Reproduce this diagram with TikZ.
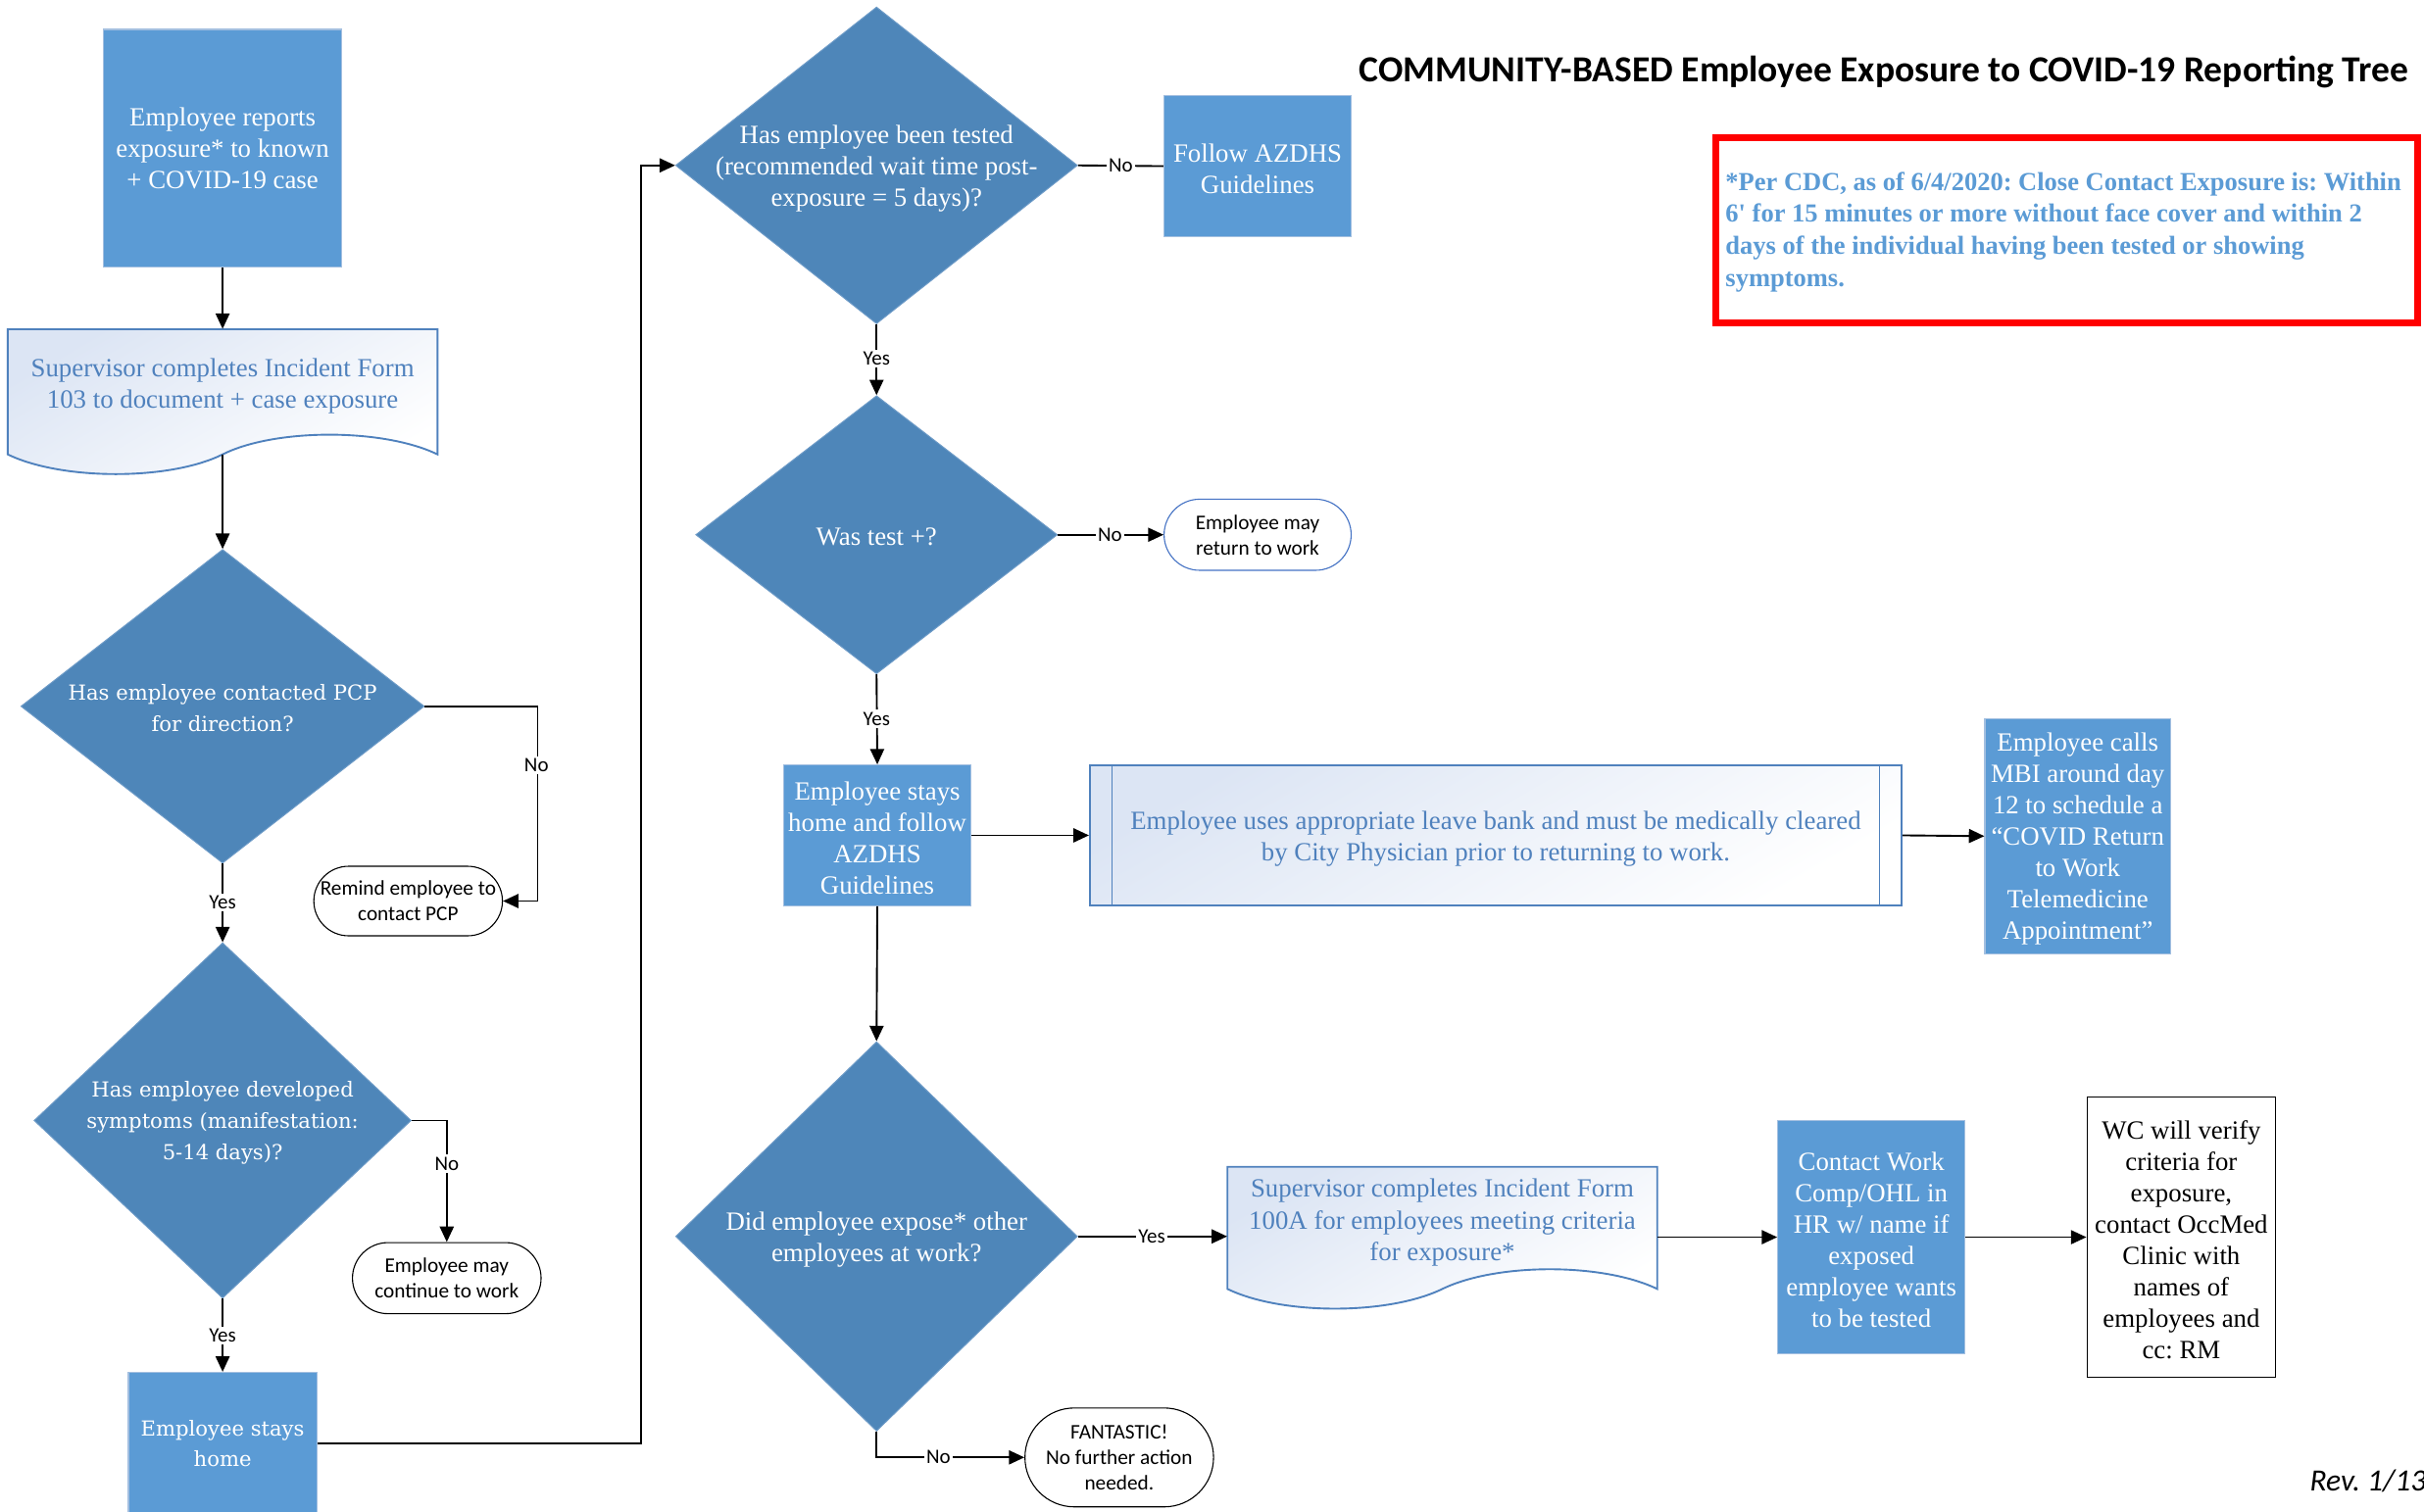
\documentclass[tikz,border=0pt]{standalone}
\usepackage{fontspec}
\setmainfont{Liberation Serif}
\newfontfamily\calfont{Carlito}
\newfontfamily\dvsfont{DejaVu Serif}
\newfontfamily\notefont{Liberation Serif}[Ligatures=TeXOff]
\usetikzlibrary{shapes.geometric,shapes.misc,arrows.meta}
\definecolor{boxblue}{HTML}{5B9BD5}
\definecolor{boxedge}{HTML}{A3BFE0}
\definecolor{diamblue}{HTML}{4E86B9}
\definecolor{diamedge}{HTML}{6F9CC8}
\definecolor{docblue}{HTML}{4F81BD}
\definecolor{gradblue}{HTML}{DCE5F4}
\definecolor{notered}{HTML}{FF0000}
\definecolor{notetext}{HTML}{5B9BD5}
\definecolor{pillblue}{HTML}{4472C4}
\newcommand\tmsfont{\fontsize{17}{20.3}\selectfont}
\newcommand\dvsq{\dvsfont\fontsize{13.4}{20}\selectfont}
\newcommand\lblfont{\calfont\fontsize{13.3}{15}\selectfont}
\newcommand\pillfont{\calfont\fontsize{13.5}{16.5}\selectfont}
\frenchspacing
\tikzset{
  procbox/.style={rectangle, fill=boxblue, draw=boxedge, line width=0.8pt, text=white, font=\tmsfont, align=center, inner sep=0pt},
  decbox/.style={diamond, fill=diamblue, draw=diamedge, line width=0.6pt, inner sep=0pt, aspect=1},
  dectext/.style={text=white, font=\tmsfont, align=center, inner sep=0pt},
  doctext/.style={text=docblue, font=\tmsfont, align=center, inner sep=0pt},
  docfill/.style={draw=docblue, line width=1.2pt, top color=gradblue, bottom color=white, shading angle=30},
  pill/.style={rounded rectangle, draw=black, line width=0.7pt, fill=white, font=\pillfont, align=center, inner sep=0pt},
  plainbox/.style={rectangle, draw=black, line width=0.8pt, fill=white, font=\tmsfont, align=center, inner sep=0pt},
  conn/.style={draw=black, line width=1.2pt},
  arr/.style={conn, -{Triangle[length=10pt,width=9pt]}},
  lbl/.style={fill=white, font=\lblfont, inner sep=1.5pt},
}
\begin{document}
\begin{tikzpicture}[x=1pt,y=-1pt]
\useasboundingbox (0,0) rectangle (1568,978);

% ---------- left column ----------
\node[procbox, minimum width=154, minimum height=154] (a) at (144,96)
  {Employee reports\\exposure* to known\\+ COVID-19 case};

\path[docfill] (5,213) -- (283,213) -- (283,294)
  .. controls (248,277) and (178,277) .. (144,294)
  .. controls (110,311) and (40,311) .. (5,294) -- cycle;
\node[minimum width=278, minimum height=70, inner sep=0pt] (b) at (144,248) {};
\node[doctext] (bt) at (144,250)
  {Supervisor completes Incident Form\\103 to document + case exposure};
\coordinate (bbot) at (144,294);

\node[decbox, minimum width=261, minimum height=203] (c) at (144,457) {};
\node[dectext, font=\dvsq] (ct) at (144,458) {Has employee contacted PCP\\for direction?};

\node[pill, minimum width=122, minimum height=45] (d) at (264,583) {Remind employee to\\contact PCP};

\node[decbox, minimum width=244, minimum height=230] (e) at (144,725) {};
\node[dectext, font=\dvsq] (et) at (144,726.5) {Has employee developed\\symptoms (manifestation:\\5-14 days)?};

\node[pill, minimum width=122, minimum height=46] (f) at (289,827) {Employee may\\continue to work};

\node[procbox, minimum width=122, minimum height=92] (g) at (144,934) {};
\node[dectext, font=\dvsq] (gt) at (144,934) {Employee stays\\home};

% ---------- middle column ----------
\node[decbox, minimum width=260, minimum height=205] (h) at (567,107) {};
\node[dectext] (ht) at (567,109) {Has employee been tested\\(recommended wait time post-\\exposure = 5 days)?};

\node[procbox, minimum width=121, minimum height=91] (i) at (813.5,107.5) {};
\node[dectext] (it) at (813.5,109) {Follow AZDHS\\Guidelines};

\node[decbox, minimum width=234, minimum height=180] (j) at (567,346) {};
\node[dectext] (jt) at (567,347.5) {Was test +?};

\node[pill, draw=pillblue, minimum width=121, minimum height=46] (k) at (813.5,346) {Employee may\\return to work};

\node[procbox, minimum width=121, minimum height=91] (l) at (567.5,540.5) {};
\node[dectext] (lt) at (567.5,542.5) {Employee stays\\home and follow\\AZDHS\\Guidelines};

\node[rectangle, draw=docblue, line width=1.2pt, top color=gradblue, bottom color=white, shading angle=30,
      minimum width=525, minimum height=91, inner sep=0pt] (m) at (967.5,540.5) {};
\draw[draw=docblue, line width=0.9pt] ([xshift=15pt]m.north west) -- ([xshift=15pt]m.south west);
\draw[draw=docblue, line width=0.9pt] ([xshift=-15pt]m.north east) -- ([xshift=-15pt]m.south east);
\node[doctext] (mt) at (967.5,542.5)
  {Employee uses appropriate leave bank and must be medically cleared\\by City Physician prior to returning to work.};

\node[procbox, minimum width=120, minimum height=152] (n) at (1344,541) {};
\node[dectext] (nt) at (1344,543)
  {Employee calls\\MBI around day\\12 to schedule a\\“COVID Return\\to Work\\Telemedicine\\Appointment”};

\node[decbox, minimum width=260, minimum height=252] (o) at (567,800) {};
\node[dectext] (ot) at (567,802) {Did employee expose* other\\employees at work?};

\path[docfill] (794,755) -- (1072,755) -- (1072,834)
  .. controls (1037,817) and (968,817) .. (933,834)
  .. controls (898,851) and (829,851) .. (794,834) -- cycle;
\node[minimum width=278, minimum height=68, inner sep=0pt] (p) at (933,789) {};
\node[doctext] (pt) at (933,791)
  {Supervisor completes Incident Form\\100A for employees meeting criteria\\for exposure*};

\node[procbox, minimum width=121, minimum height=151] (q) at (1210.5,800.5) {};
\node[dectext] (qt) at (1210.5,802)
  {Contact Work\\Comp/OHL in\\HR w/ name if\\exposed\\employee wants\\to be tested};

\node[plainbox, minimum width=122, minimum height=181] (r) at (1411,800.5) {};
\node[font=\tmsfont, align=center, inner sep=0pt] (rt) at (1411,802)
  {WC will verify\\criteria for\\exposure,\\contact OccMed\\Clinic with\\names of\\employees and\\cc: RM};

\node[pill, minimum width=122, minimum height=64] (s) at (724,943)
  {FANTASTIC!\\No further action\\needed.};

% ---------- title and note ----------
\node[anchor=west, font=\calfont\bfseries\fontsize{23.8}{28}\selectfont, inner sep=0pt] (title) at (879,46.5)
  {COMMUNITY-BASED Employee Exposure to COVID-19 Reporting Tree};

\node[rectangle, draw=notered, line width=4.5pt, minimum width=454, minimum height=120, inner sep=0pt] (note) at (1337,149) {};
\node[anchor=west, align=left, text=notetext, font=\notefont\bfseries\fontsize{16.8}{20.7}\selectfont, inner sep=0pt] (notet) at (1116,150)
  {*Per CDC, as of 6/4/2020: Close Contact Exposure is: Within\\6' for 15 minutes or more without face cover and within 2\\days of the individual having been tested or showing\\symptoms.};

\node[anchor=west, font=\calfont\itshape\fontsize{20}{24}\selectfont, inner sep=0pt] (rev) at (1494,958) {Rev. 1/13};

% ---------- connectors ----------
\draw[arr] (a.south) -- (b.north);
\draw[arr] (bbot) -- (c.north);
\draw[arr] (c.east) -- ++(73,0) |- (d.east);
\node[lbl] at (347,495) {No};
\draw[arr] (c.south) -- (e.north);
\node[lbl] at (144,584) {Yes};
\draw[arr] (e.east) -| (f.north);
\node[lbl] at (289,753) {No};
\draw[arr] (e.south) -- (g.north);
\node[lbl] at (144,864) {Yes};
\draw[arr] (g.east) -- ++(209,0) |- (h.west);

\draw[conn] (h.east) -- (i.west);
\node[lbl] at (725,107) {No};
\draw[arr] (h.south) -- (j.north);
\node[lbl] at (567,232) {Yes};
\draw[arr] (j.east) -- (k.west);
\node[lbl] at (718,346) {No};
\draw[arr] (j.south) -- (l.north);
\node[lbl] at (567,465) {Yes};
\draw[arr] (l.east) -- (m.west);
\draw[arr] (m.east) -- (n.west);
\draw[arr] (l.south) -- (o.north);
\draw[arr] (o.east) -- (o.east -| p.west);
\node[lbl] at (745,800) {Yes};
\draw[arr] (q.west -| p.east) -- (q.west);
\draw[arr] (q.east) -- (r.west);
\draw[arr] (o.south) |- (s.west);
\node[lbl] at (607,943) {No};
\end{tikzpicture}
\end{document}
